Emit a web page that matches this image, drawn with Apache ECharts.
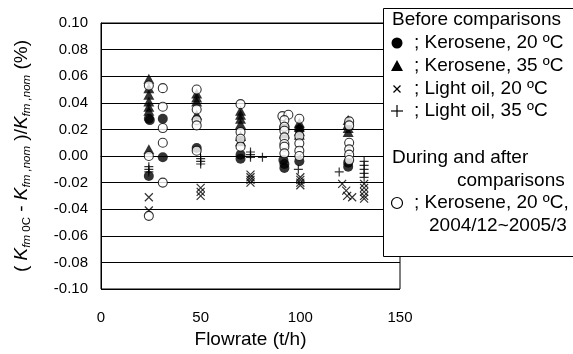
<!DOCTYPE html>
<html>
<head>
<meta charset="utf-8">
<script src="https://cdn.jsdelivr.net/npm/echarts@6/dist/echarts.min.js"></script>
<style>
  html, body { margin: 0; padding: 0; background: #fff; }
  #chart { width: 573px; height: 354px; }
</style>
</head>
<body>
<div id="chart"></div>
<script>
// Relative deviation of the meter factor, (Kfm0C - Kfm,nom)/Kfm,nom in %, vs. flowrate (t/h)

// Before comparisons: kerosene at 20 ºC  [flowrate, deviation]
const kerosene20 = [
  [24, 0.028], [24.5, 0.027], [24, -0.015],
  [31, 0.028], [31, -0.001],
  [48, 0.006],
  [70, 0.001], [70, -0.002],
  [92, 0.022], [91.5, -0.003], [92, -0.006], [92, -0.009],
  [99.5, 0.020], [99.5, -0.004],
  [124, -0.005], [124, -0.008]
];

// Before comparisons: kerosene at 35 ºC
const kerosene35 = [
  [24, 0.058], [24, 0.051], [24, 0.046], [24, 0.041], [24, 0.037], [24, 0.034], [24, 0.005],
  [48, 0.047], [48, 0.044], [48, 0.041], [48, 0.031],
  [70, 0.034], [70, 0.031], [70, 0.028], [70, 0.024], [70, 0.015], [70, 0.011],
  [92, 0.024], [92, 0.017],
  [99.5, 0.025], [99.5, 0.022], [99.5, 0.019], [99.5, 0.016],
  [124, 0.027], [124, 0.024], [124, 0.021], [124, 0.018]
];

// Before comparisons: light oil at 20 ºC
const lightOil20 = [
  [24, -0.031], [24, -0.041],
  [50, -0.024], [50, -0.027], [50, -0.030],
  [75, -0.014], [75, -0.016], [75, -0.018], [75, -0.020],
  [100, -0.016], [100, -0.018], [100, -0.020], [100, -0.022],
  [121, -0.021], [123, -0.026], [123.5, -0.030], [126, -0.031],
  [132, -0.021], [132, -0.024], [132, -0.027], [132, -0.030], [132, -0.032]
];

// Before comparisons: light oil at 35 ºC
const lightOil35 = [
  [24, -0.008], [24, -0.010], [24, -0.012],
  [50, -0.002], [50, -0.004], [50, -0.006],
  [75, 0.003], [75, 0.001], [75, -0.001],
  [81, -0.001],
  [99, -0.010],
  [119.5, -0.012],
  [132, -0.004], [132, -0.007], [132, -0.010], [132, -0.013], [132, -0.016]
];

// During and after comparisons: kerosene at 20 ºC, 2004/12~2005/3
const keroseneAfter = [
  [24, 0.053], [24, 0.000], [24, -0.045],
  [31, 0.051], [31, 0.037], [31, 0.021], [31, 0.010], [31, -0.020],
  [48, 0.050], [48, 0.035], [48, 0.027], [48, 0.023], [48, 0.004],
  [70, 0.039], [70, 0.018], [70, 0.013], [70, 0.007],
  [91, 0.030], [94, 0.031], [92, 0.027], [92, 0.022], [92, 0.019], [92, 0.014], [92, 0.009], [92, 0.007], [92, 0.002],
  [99.5, 0.028], [99.5, 0.015], [99.5, 0.0095], [99.5, 0.004], [99.5, 0.000],
  [124.5, 0.026], [124.5, 0.023], [124.5, 0.010], [124.5, 0.005], [124.5, 0.001], [124.5, -0.003]
];

// Axis ranges and tick steps
const xRange = [0, 150, 50];
const yRange = [-0.10, 0.10, 0.02];

// Legend entries
const legendHeading1 = 'Before comparisons';
const legendItems = ['; Kerosene, 20 ºC', '; Kerosene, 35 ºC', '; Light oil, 20 ºC', '; Light oil, 35 ºC'];
const legendHeading2 = ['During and after', 'comparisons'];
const legendAfter = ['; Kerosene, 20 ºC,', '2004/12~2005/3'];

const FONT = '"Liberation Sans", Arial, Helvetica, sans-serif';

const crossPath = 'path://M0 0L10 10M10 0L0 10';
const plusPath = 'path://M5 0L5 10M0 5L10 5';

const chart = echarts.init(document.getElementById('chart'), null, { renderer: 'canvas' });

const lx = 383, ly = 8;
const black = '#000';
const legendText = (x, y, text) => ({
  type: 'text', x: x, y: y, z: 101,
  style: { text: text, fill: black, font: '19px ' + FONT, textVerticalAlign: 'middle' }
});

const option = {
  animation: false,
  backgroundColor: '#fff',
  textStyle: { fontFamily: FONT },
  grid: {
    left: 101, right: 173, top: 23, bottom: 65,
    show: true, borderColor: black, borderWidth: 1, backgroundColor: 'transparent'
  },
  xAxis: {
    type: 'value', min: xRange[0], max: xRange[1], interval: xRange[2],
    name: 'Flowrate (t/h)', nameLocation: 'middle', nameGap: 41,
    nameTextStyle: { fontSize: 19, color: black, fontFamily: FONT },
    axisLine: { show: true, lineStyle: { color: black, width: 1 } },
    axisTick: { show: true, inside: true, length: 5, lineStyle: { color: black } },
    axisLabel: { fontSize: 15, color: black, margin: 21, fontFamily: FONT },
    splitLine: { show: false }
  },
  yAxis: {
    type: 'value', min: yRange[0], max: yRange[1], interval: yRange[2],
    name: '{p|( }{k|K}{s|fm }{n|0C}{p| - }{k|K}{s|fm ,nom}{p| )/}{k|K}{s|fm ,nom}{p| (%)}',
    nameLocation: 'middle', nameRotate: 90, nameGap: 68,
    nameTextStyle: {
      color: black, fontFamily: FONT,
      rich: {
        p: { fontSize: 19, lineHeight: 22, fontFamily: FONT, color: black },
        k: { fontSize: 19, lineHeight: 22, fontStyle: 'italic', fontFamily: FONT, color: black },
        s: { fontSize: 11.5, lineHeight: 10, fontStyle: 'italic', verticalAlign: 'bottom', fontFamily: FONT, color: black },
        n: { fontSize: 11.5, lineHeight: 10, verticalAlign: 'bottom', fontFamily: FONT, color: black }
      }
    },
    axisLine: { show: true, lineStyle: { color: black, width: 1 } },
    axisTick: { show: false },
    axisLabel: {
      fontSize: 15, color: black, margin: 13, fontFamily: FONT,
      formatter: v => (Math.abs(v) < 1e-9 ? 0 : v).toFixed(2)
    },
    splitLine: { show: true, lineStyle: { color: black, width: 1 } }
  },
  series: [
    {
      name: 'Kerosene, 20 ºC', type: 'scatter', data: kerosene20,
      symbol: 'circle', symbolSize: 10,
      itemStyle: { color: black }
    },
    {
      name: 'Kerosene, 35 ºC', type: 'scatter', data: kerosene35,
      symbol: 'triangle', symbolSize: [11, 10],
      itemStyle: { color: black }
    },
    {
      name: 'Light oil, 20 ºC', type: 'scatter', data: lightOil20,
      symbol: crossPath, symbolSize: 8,
      itemStyle: { color: 'none', borderColor: black, borderWidth: 1.2 }
    },
    {
      name: 'Light oil, 35 ºC', type: 'scatter', data: lightOil35,
      symbol: plusPath, symbolSize: 9,
      itemStyle: { color: 'none', borderColor: black, borderWidth: 1.2 }
    },
    {
      name: 'Kerosene, 20 ºC, 2004/12~2005/3', type: 'scatter', data: keroseneAfter,
      symbol: 'circle', symbolSize: 9,
      itemStyle: { color: '#fff', borderColor: black, borderWidth: 1.1 }
    }
  ],
  graphic: [
    {
      type: 'rect', z: 100,
      shape: { x: lx + 0.5, y: ly + 0.5, width: 200, height: 248 },
      style: { fill: '#fff', stroke: black, lineWidth: 1 }
    },
    legendText(392, 20, legendHeading1),
    // filled circle
    { type: 'circle', z: 101, shape: { cx: 397, cy: 43, r: 5.5 }, style: { fill: black } },
    legendText(414, 43, legendItems[0]),
    // filled triangle
    { type: 'polygon', z: 101, shape: { points: [[397, 60], [403, 71], [391, 71]] }, style: { fill: black } },
    legendText(414, 66, legendItems[1]),
    // cross
    { type: 'polyline', z: 101, shape: { points: [[393.5, 85.5], [400.5, 92.5]] }, style: { stroke: black, lineWidth: 1.2 } },
    { type: 'polyline', z: 101, shape: { points: [[400.5, 85.5], [393.5, 92.5]] }, style: { stroke: black, lineWidth: 1.2 } },
    legendText(414, 89, legendItems[2]),
    // plus
    { type: 'polyline', z: 101, shape: { points: [[391, 111], [403, 111]] }, style: { stroke: black, lineWidth: 1.2 } },
    { type: 'polyline', z: 101, shape: { points: [[397, 105], [397, 117]] }, style: { stroke: black, lineWidth: 1.2 } },
    legendText(414, 111, legendItems[3]),
    legendText(392, 158, legendHeading2[0]),
    legendText(457, 181, legendHeading2[1]),
    // open circle
    { type: 'circle', z: 101, shape: { cx: 397, cy: 203, r: 5.5 }, style: { fill: '#fff', stroke: black, lineWidth: 1.2 } },
    legendText(414, 203, legendAfter[0]),
    legendText(429, 226, legendAfter[1])
  ]
};

chart.setOption(option);
</script>
</body>
</html>
